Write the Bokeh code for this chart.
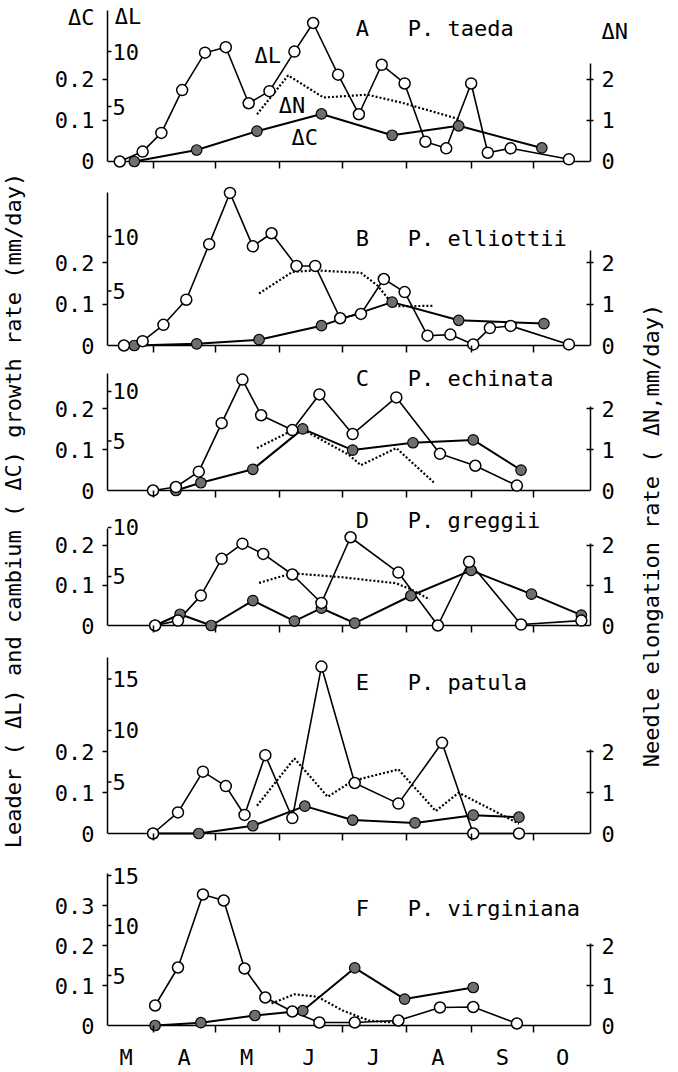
import math
from bokeh.plotting import figure
from bokeh.models import Range1d, LinearAxis, FixedTicker, Span, Label
from bokeh.layouts import row, column
from bokeh.embed import file_html
from bokeh.resources import INLINE
from bokeh.core.properties import value

FONT = "DejaVu Sans Mono"
FS = "22px"

# x values are day of the year
month_starts = [91, 121, 152, 182, 213, 244, 274]
month_label_days = [78, 106, 136, 166, 197, 228, 259, 288]
month_names = ["M", "A", "M", "J", "J", "A", "S", "O"]

# A  P. taeda
a_L_day = [75, 86, 95, 105, 116, 126, 137, 147, 159, 168, 180, 190, 201, 212, 222, 232, 244, 252, 263, 291]
a_L = [0.0, 0.9, 2.6, 6.5, 9.9, 10.4, 5.3, 6.4, 10.0, 12.6, 7.9, 4.3, 8.8, 7.1, 1.8, 1.2, 7.1, 0.8, 1.2, 0.2]
a_C_day = [82, 112, 141, 172, 206, 238, 278]
a_C = [0.0, 0.028, 0.074, 0.116, 0.064, 0.087, 0.033]
a_N_day = [141, 156, 173, 194, 211, 239]
a_N = [1.15, 2.1, 1.56, 1.63, 1.43, 1.02]

# B  P. elliottii
b_L_day = [77, 86, 96, 107, 118, 128, 139, 148, 160, 169, 181, 191, 202, 212, 223, 234, 245, 253, 263, 291]
b_L = [0.0, 0.4, 1.9, 4.2, 9.3, 14.0, 9.1, 10.3, 7.3, 7.3, 2.5, 2.9, 6.1, 4.9, 0.9, 1.0, 0.1, 1.6, 1.8, 0.1]
b_C_day = [82, 112, 142, 172, 206, 238, 279]
b_C = [0.0, 0.004, 0.014, 0.048, 0.105, 0.061, 0.053]
b_N_day = [142, 158, 169, 191, 199, 207, 226]
b_N = [1.26, 1.78, 1.82, 1.76, 1.45, 0.95, 0.96]

# C  P. echinata
c_L_day = [91, 102, 113, 124, 134, 143, 158, 171, 187, 208, 229, 246, 266]
c_L = [0.0, 0.35, 1.9, 6.8, 11.2, 7.6, 6.1, 9.7, 5.7, 9.4, 3.7, 2.5, 0.5]
c_C_day = [102, 114, 139, 163, 187, 216, 245, 268]
c_C = [0.0, 0.019, 0.052, 0.151, 0.099, 0.117, 0.124, 0.05]
c_N_day = [141, 161, 185, 191, 208, 226]
c_N = [1.04, 1.55, 0.88, 0.62, 1.04, 0.2]

# D  P. greggii
d_L_day = [92, 103, 114, 124, 134, 144, 158, 172, 186, 209, 228, 243, 268, 297]
d_L = [0.0, 0.5, 3.05, 6.8, 8.35, 7.3, 5.2, 2.3, 9.0, 5.4, 0.0, 6.5, 0.1, 0.5]
d_C_day = [92, 104, 119, 139, 159, 172, 188, 215, 244, 273, 297]
d_C = [0.0, 0.028, 0.0, 0.062, 0.011, 0.043, 0.006, 0.074, 0.137, 0.078, 0.026]
d_N_day = [142, 158, 182, 208, 215, 224]
d_N = [1.06, 1.3, 1.2, 1.05, 0.9, 0.65]

# E  P. patula
e_L_day = [91, 103, 115, 126, 135, 145, 158, 172, 188, 209, 230, 245, 267]
e_L = [0.0, 2.05, 6.0, 4.6, 1.8, 7.6, 1.5, 16.2, 4.9, 2.9, 8.8, 0.0, 0.0]
e_C_day = [91, 113, 139, 164, 187, 217, 245, 267]
e_C = [0.0, 0.0, 0.019, 0.067, 0.033, 0.026, 0.045, 0.04]
e_N_day = [141, 159, 175, 187, 209, 227, 238, 267]
e_N = [0.68, 1.84, 0.9, 1.29, 1.57, 0.55, 1.0, 0.24]

# F  P. virginiana
f_L_day = [92, 103, 115, 125, 135, 145, 158, 171, 188, 209, 229, 245, 266]
f_L = [2.0, 5.8, 13.1, 12.5, 5.7, 2.8, 1.4, 0.3, 0.3, 0.5, 1.8, 1.85, 0.2]
f_C_day = [92, 114, 140, 163, 188, 212, 245]
f_C = [0.0, 0.007, 0.025, 0.037, 0.144, 0.066, 0.095]
f_N_day = [148, 159, 170, 182, 195, 208]
f_N = [0.55, 0.78, 0.72, 0.38, 0.12, 0.07]

L_ticks_small = [5, 10]
L_ticks_large = [5, 10, 15]
C_ticks_small = [0, 0.1, 0.2]
C_ticks_large = [0, 0.1, 0.2, 0.3]
N_ticks = [0, 1, 2]

X0, X1 = 69.1, 301.4


def tick_labels(vals, extra=None):
    out = {}
    for v in vals:
        s = "0" if v == 0 else ("%g" % v)
        out[v] = s
        out[str(v)] = s
    for v, s in (extra or {}).items():
        out[v] = s
        out[str(v)] = s
    return out


def make_panel(tag, name, Ld, Lv, Cd, Cv, Nd, Nv, Lt, Ct, h, bb, k, lr,
               ctop, ntop, title_y, last=False, c_head=None, n_head=None):
    frame_h = h - bb
    c0 = -7.0 / k
    c1 = c0 + frame_h / k
    p = figure(width=605, height=h, min_border_left=77, min_border_right=45,
               min_border_top=0, min_border_bottom=bb,
               x_range=Range1d(X0, X1), y_range=Range1d(c0, c1),
               toolbar_location=None, output_backend="svg")
    p.outline_line_color = None
    p.xgrid.visible = False
    p.ygrid.visible = False
    p.extra_y_ranges = {"L": Range1d(c0 * lr, c1 * lr),
                        "N": Range1d(c0 * 10, c1 * 10)}

    # left axis: cambium (tick marks drawn as minor ticks so a header can sit on the axis)
    c_extra = c_head or {}
    ya = p.yaxis[0]
    ya.ticker = FixedTicker(ticks=Ct + list(c_extra.keys()),
                            minor_ticks=[v for v in Ct if v > 0])
    ya.bounds = (0, ctop)
    ya.major_label_overrides = tick_labels(Ct, c_extra)
    ya.major_tick_out = 0
    ya.major_tick_in = 0
    ya.minor_tick_out = 5
    ya.minor_tick_in = 0
    ya.minor_tick_line_width = 1.5
    ya.minor_tick_line_color = "black"
    ya.axis_line_width = 1.5
    ya.major_label_standoff = 8
    ya.major_label_text_font = FONT
    ya.major_label_text_font_size = FS
    ya.major_label_text_color = "black"

    # right axis: needle
    n_extra = n_head or {}
    ra = LinearAxis(y_range_name="N",
                    ticker=FixedTicker(ticks=N_ticks + list(n_extra.keys()),
                                       minor_ticks=[1, 2]),
                    bounds=(0, ntop))
    ra.major_label_overrides = tick_labels(N_ticks, n_extra)
    ra.major_tick_in = 0
    ra.major_tick_out = 0
    ra.minor_tick_in = 4
    ra.minor_tick_out = 3
    ra.minor_tick_line_width = 1.5
    ra.minor_tick_line_color = "black"
    ra.axis_line_width = 1.5
    ra.major_label_standoff = 8
    ra.major_label_text_font = FONT
    ra.major_label_text_font_size = FS
    ra.major_label_text_color = "black"
    p.add_layout(ra, "right")

    # bottom axis: month boundaries as ticks, month names in the last panel
    xa = p.xaxis[0]
    xa.axis_line_color = None
    xa.major_tick_in = 0
    xa.major_tick_out = 0
    xa.minor_tick_in = 7
    xa.minor_tick_out = 0
    xa.minor_tick_line_width = 1.5
    xa.minor_tick_line_color = "black"
    if last:
        xa.ticker = FixedTicker(ticks=month_label_days, minor_ticks=month_starts)
        ov = {}
        for d, m in zip(month_label_days, month_names):
            ov[d] = m
            ov[str(d)] = m
        xa.major_label_overrides = ov
        xa.major_label_standoff = 12
        xa.major_label_text_font = FONT
        xa.major_label_text_font_size = FS
        xa.major_label_text_color = "black"
    else:
        xa.ticker = FixedTicker(ticks=[], minor_ticks=month_starts)
        xa.major_label_standoff = 0

    # zero line
    p.add_layout(Span(location=0, dimension="width", line_color="black",
                      line_width=1.5, level="underlay"))

    # leader scale, drawn inside the frame along the left axis
    p.ray(x=[X0] * len(Lt), y=Lt, length=4, length_units="screen", angle=0,
          y_range_name="L", line_color="black", line_width=1.5)
    p.text(x=[X0] * len(Lt), y=Lt, text=[str(v) for v in Lt], y_range_name="L",
           x_offset=5, text_align="left", text_baseline="middle",
           text_font=value(FONT), text_font_size=FS, text_color="black")

    # series
    p.line(Nd, Nv, y_range_name="N", line_color="black", line_width=2.2,
           line_dash="2 2")
    p.line(Cd, Cv, line_color="black", line_width=2)
    p.line(Ld, Lv, y_range_name="L", line_color="black", line_width=1.6)
    p.scatter(Cd, Cv, size=10.5, marker="circle", fill_color="#6e6e6e",
              line_color="black", line_width=1.2)
    p.scatter(Ld, Lv, y_range_name="L", size=11, marker="circle",
              fill_color="white", line_color="black", line_width=1.5)

    p.add_layout(Label(x=188.5, y=title_y, text=tag, text_font=FONT,
                       text_font_size=FS, text_baseline="middle",
                       text_align="left", text_color="black"))
    p.add_layout(Label(x=213.5, y=title_y, text=name, text_font=FONT,
                       text_font_size=FS, text_baseline="middle",
                       text_align="left", text_color="black"))
    return p


pa = make_panel("A", "P. taeda", a_L_day, a_L, a_C_day, a_C, a_N_day, a_N,
                L_ticks_small, C_ticks_small, 180, 12, 410, 37.3, 0.368, 2.4, 0.3237,
                c_head={0.351: "ΔC"}, n_head={3.17: "ΔN"})
pb = make_panel("B", "P. elliottii", b_L_day, b_L, b_C_day, b_C, b_N_day, b_N,
                L_ticks_small, C_ticks_small, 182, 10, 413, 37.9, 0.370, 2.3, 0.2584)
pc = make_panel("C", "P. echinata", c_L_day, c_L, c_C_day, c_C, c_N_day, c_N,
                L_ticks_small, C_ticks_small, 143, 8, 408, 41.2, 0.287, 2.05, 0.2738)
pd = make_panel("D", "P. greggii", d_L_day, d_L, d_C_day, d_C, d_N_day, d_N,
                L_ticks_small, C_ticks_small, 137, 10, 402, 41.0, 0.241, 2.05, 0.2612)
pe = make_panel("E", "P. patula", e_L_day, e_L, e_C_day, e_C, e_N_day, e_N,
                L_ticks_large, C_ticks_small, 210, 12, 408, 39.6, 0.431, 2.05, 0.3708)
pf = make_panel("F", "P. virginiana", f_L_day, f_L, f_C_day, f_C, f_N_day, f_N,
                L_ticks_large, C_ticks_large, 220, 40, 400, 40.0, 0.380, 2.05, 0.2918,
                last=True)

# series names in panel A and the leader header
for txt, x, y in [("ΔL", 146.2, 0.2585), ("ΔN", 157.8, 0.137),
                  ("ΔC", 164.0, 0.0585), ("ΔL", 79.0, 0.354)]:
    pa.add_layout(Label(x=x, y=y, text=txt, text_font=FONT, text_font_size=FS,
                        text_baseline="middle", text_align="center",
                        text_color="black"))


def side_strip(w, cx, cy, txt):
    s = figure(width=w, height=1072, x_range=Range1d(0, w), y_range=Range1d(0, 1072),
               toolbar_location=None, output_backend="svg",
               min_border=0, min_border_left=0, min_border_right=0,
               min_border_top=0, min_border_bottom=0)
    s.outline_line_color = None
    s.axis.visible = False
    s.grid.visible = False
    s.text(x=[cx], y=[1072 - cy], text=[txt], angle=math.pi / 2,
           text_align="center", text_baseline="middle",
           text_font=value(FONT), text_font_size=FS, text_color="black")
    return s


left = side_strip(30, 13, 510, "Leader ( ΔL) and cambium ( ΔC) growth rate (mm/day)")
right = side_strip(43, 16, 535, "Needle elongation rate ( ΔN,mm/day)")

layout = row(left, column(pa, pb, pc, pd, pe, pf, spacing=0), right, spacing=0)

open("out.html", "w").write(file_html(layout, INLINE))
